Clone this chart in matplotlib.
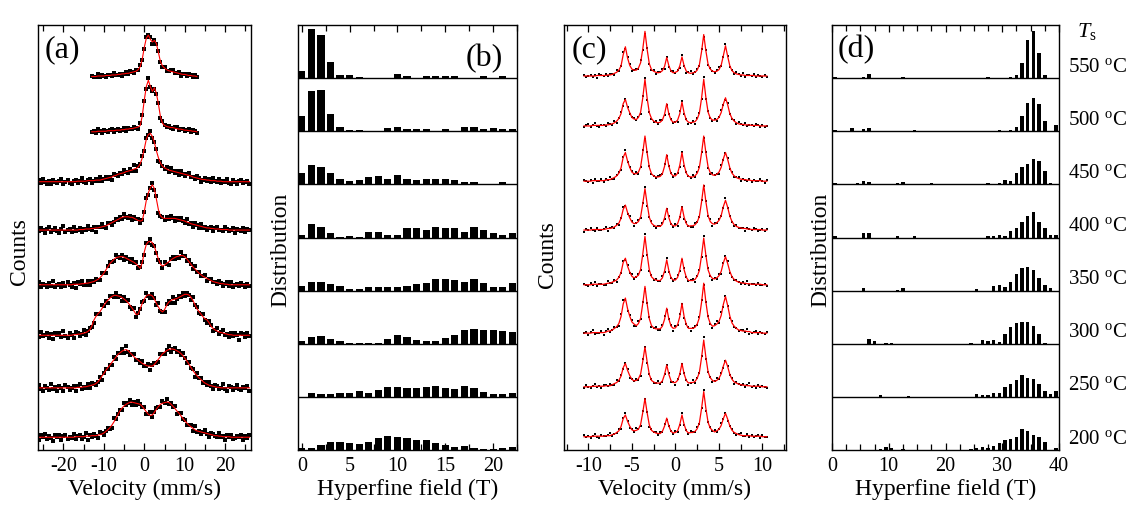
import numpy as np
import matplotlib.pyplot as plt
from matplotlib.ticker import MultipleLocator

plt.rcParams['font.family'] = ['Liberation Serif', 'DejaVu Serif']
plt.rcParams['mathtext.fontset'] = 'custom'
plt.rcParams['mathtext.rm'] = 'Liberation Serif'
plt.rcParams['mathtext.it'] = 'Liberation Serif:italic'
plt.rcParams['axes.unicode_minus'] = False

temps = [550, 500, 450, 400, 350, 300, 250, 200]

# ---------- panel (a): wide-velocity spectra, heights in % of one row ----------
vel_a_narrow = np.arange(-13, 13.01, 0.5)   # 550, 500 spectra
vel_a_wide = np.arange(-26, 26.01, 0.5)     # 450 ... 200 spectra
base_a = [7.03, 5.99, 5.05, 4.14, 3.11, 2.16, 1.17, 0.24]

fit_a550 = [0,0,0,1,1,1,1,2,2,2, 3,3,3,4,4,5,5,6,6,7, 8,9,10,13,19,33,55,72,78,70,
            65,68,62,45,28,20,16,13,11,10, 9,8,7,6,5,4,4,3,2,2, 1,1,0]
fit_a500 = [0,0,0,1,1,1,1,1,2,2, 2,2,3,3,3,4,4,5,5,6, 6,7,8,9,12,30,60,85,97,85,
            76,83,72,52,28,16,12,10,9,8, 8,7,6,5,5,4,3,3,2,2, 1,1,0]
fit_a450 = [0]*19 + [1,1] + [
    1,1,1,2,2,2,2,3,3,3, 4,5,6,7,8,9,11,12,14,15, 16,17,19,20,21,22,24,25,28,34,
    45,62,80,89,91,85,74,58,45,35, 29,26,24,22,21,20,19,18,17,16, 15,14,13,12,11,9,8,7,6,5,
    4,4,3,3,2,2,2,1,1,1] + [0]*14
fit_a400 = [0]*20 + [1,1,1] + [
    2,2,2,3,3,4,4,5,6,7, 8,10,12,14,16,18,20,22,24,25, 25,25,24,24,22,20,18,17,18,35,
    56,70,80,85,78,58,38,27,23,22, 22,22,22,22,22,21,20,19,18,17, 15,14,12,11,10,9,8,7,6,5,
    4,4,3,3,2,2,2,1,1,1, 1] + [0]*11
fit_a350 = [0]*17 + [1,1,1,1] + [
    2,2,3,3,4,5,6,8,10,13, 17,22,28,34,40,44,48,51,52,53, 53,52,50,48,46,44,42,39,35,31,
    42,62,76,81,82,79,72,60,48,39, 35,37,40,43,46,49,51,53,54,55, 55,53,49,44,39,34,30,26,22,19,
    16,14,12,10,8,6,5,4,3,2, 2,1,1] + [0]*11
fit_a300 = [0]*17 + [1,1,2,2] + [
    3,4,5,7,10,17,28,35,40,44, 50,56,62,66,70,73,75,75,74,73, 71,68,65,61,56,51,45,39,40,50,
    60,68,74,76,76,74,68,60,53,47, 44,48,56,62,65,67,68,69,71,73, 75,77,77,76,72,66,58,50,45,40,
    35,31,29,24,17,13,10,8,6,5, 4,3,2,1,1] + [0]*9
fit_a250 = [0]*19 + [1,1] + [
    1,2,2,3,4,5,6,8,11,16, 22,27,33,38,43,48,53,58,63,66, 69,71,72,70,66,62,58,55,52,49,
    46,44,42,41,41,41,44,49,54,59, 64,67,70,72,73,73,72,70,68,65, 61,56,51,45,39,33,28,23,19,16,
    12,9,7,5,4,3,2,1,1] + [0]*15
fit_a200 = [0]*18 + [1,1,1] + [
    1,1,2,2,2,3,3,3,4,5, 6,8,11,14,18,23,29,36,43,50, 55,59,62,64,66,66,65,64,63,62,
    58,53,48,43,41,42,47,53,58,62, 64,65,66,66,63,59,55,50,46,41, 36,31,27,23,20,17,14,12,11,10,
    9,8,7,6,5,4,3,3,2,2, 1,1,1,1] + [0]*10

# scatter of the measured counts about the fit, in steps of res_step_a % of a row
res_step_a = 1.7
res_a550 = [1,-1,0,2,-1,1,0,-2,1,0, -1,2,0,-1,1,-2,0,1,-1,2, 0,-1,1,0,2,-1,-2,1,0,3,
            -2,1,-1,2,0,-1,1,-2,0,1, 2,-1,0,1,-2,1,0,-1,2,0, -1,1,0]
res_a500 = [0,1,-1,2,0,-2,1,0,-1,1, 2,-1,0,1,-1,0,2,-2,1,0, -1,1,0,-2,3,1,-1,-3,2,0,
            1,-2,0,1,-1,2,0,-1,1,0, -2,1,2,-1,0,1,-1,0,2,-1, 1,0,-1]
res_a450 = [2,-1,3,0,-2,1,-3,2,0,-1, 1,3,-2,0,2,-1,-3,1,2,-2, 0,3,-1,-2,1,2,-3,0,1,-1,
            3,-2,0,2,-1,1,-3,2,0,-2, 1,-1,3,0,-2,2,-1,4,-3,1, 0,2,-2,1,-1,3,-2,0,2,-3,
            1,0,-1,2,-2,3,0,-1,1,-3, 2,0,-2,1,3,-1,0,-2,2,1, -3,0,2,-1,1,-2,3,0,-1,2,
            -2,1,0,3,-1,-2,2,0,-3,1, 2,-1,0,1,-2]
res_a400 = [-1,2,0,-3,1,3,-2,0,2,-1, -3,1,4,-2,0,1,-2,3,-1,0, 2,-3,1,-1,3,0,-2,2,-4,1,
            0,3,-1,-2,2,1,-3,0,2,-1, 1,-2,3,0,-1,2,-3,1,0,2, -2,1,-1,3,-2,0,2,-1,4,-3,
            0,1,-2,2,-1,3,0,-3,1,-1, 2,0,-2,3,-1,1,-3,2,0,-2, 3,-1,1,-2,0,2,-3,1,2,-1,
            0,-2,3,1,-1,0,2,-3,1,0, -1,2,-2,1,0]
res_a350 = [3,-2,1,0,-3,2,-1,4,-2,0, 1,-3,2,-1,3,0,-2,1,-4,2, 0,3,-1,-2,2,-3,1,0,2,-1,
            -2,3,0,-3,1,2,-1,-2,3,0, -1,2,-3,1,0,-2,3,-1,2,-2, 1,0,-3,2,-1,3,-2,1,0,-1,
            2,-2,3,0,-3,1,2,-1,0,-2, 4,-1,1,-3,2,0,-2,3,-1,1, -2,0,3,-3,1,2,-1,0,-2,2,
            1,-3,0,2,-1,3,-2,0,1,-1, 2,0,-3,1,-1]
res_a300 = [-2,4,-1,0,3,-3,1,-4,2,0, 3,-2,5,-1,-3,2,0,-4,3,1, -2,0,4,-3,1,2,-1,-3,3,0,
            -2,4,-1,1,-3,2,0,-2,3,-1, 1,-4,2,0,3,-2,-1,4,-3,1, 0,2,-2,3,-1,-3,2,1,-2,4,
            -1,0,-3,2,1,-2,3,-4,0,2, -1,3,-2,1,0,-3,4,-1,2,-2, 0,3,-1,-4,2,1,-3,0,3,-2,
            1,4,-2,0,-3,2,-1,3,0,-5, 2,1,-2,3,-1]
res_a250 = [3,-1,-3,2,0,-2,4,-1,1,-3, 2,0,-4,3,1,-2,0,2,-3,1, 4,-2,0,-1,3,-3,2,1,-2,0,
            3,-4,1,2,-1,0,-3,3,-2,1, 0,2,-3,4,-1,-2,1,3,-2,0, -1,3,-2,0,2,-4,1,2,-1,-3,
            3,0,-2,1,4,-3,0,2,-1,1, -2,3,0,-3,2,-1,1,-4,3,0, 2,-2,1,-1,3,0,-3,2,1,-2,
            0,4,-1,-3,2,1,-2,0,3,-1, -2,1,0,2,-3]
res_a200 = [-3,2,0,4,-2,1,-1,-4,3,0, 2,-3,1,3,-2,0,-1,4,-3,1, 2,-2,0,3,-4,1,-1,2,0,-3,
            3,1,-2,0,2,-1,-3,4,-1,0, 1,-2,3,-1,0,2,-3,1,-2,3, 0,-1,2,-3,1,4,-2,0,1,-1,
            -3,2,0,3,-2,1,-1,2,-4,0, 3,-1,1,-2,0,2,-3,4,-1,1, -2,0,3,-1,-3,2,1,0,-2,3,
            -1,1,-4,2,0,3,-2,-1,1,0, 2,-3,1,-1,2]

# ---------- panel (c): sextet spectra, heights in % of one row ----------
vel_c = np.arange(-10.5, 10.51, 0.25)
base_c = [7.04, 6.10, 5.06, 4.14, 3.11, 2.20, 1.19, 0.25]

fit_c550 = [0,0,0,0,0,0,1,1,1,1,1, 2,2,3,5,7,11,19,40,55,34, 20,13,11,11,15,25,51,84,50,23,
            12,9,7,6,7,10,18,35,19,9, 6,7,9,19,36,19,9,6,5,6, 7,11,21,46,78,47,22,13,9,8,
            9,12,20,38,57,37,19,10,6,4, 3,2,2,1,1,1,1,1,0,0, 0,0,0,0]
fit_c500 = [0,0,0,0,1,1,1,1,1,1,2, 2,3,4,6,9,14,23,42,50,35, 25,16,13,12,16,26,53,88,52,25,
            14,9,7,6,7,11,22,42,22,11, 7,7,11,23,45,24,11,7,6,7, 8,13,24,52,88,53,26,15,11,11,
            12,16,25,41,53,40,23,14,9,6, 4,3,3,2,2,2,1,1,1,1, 0,0,0,0]
fit_c450 = [0,0,0,0,1,1,1,1,1,1,2, 3,3,5,7,10,15,25,45,54,38, 26,17,14,14,17,27,54,85,53,26,
            14,10,8,8,9,14,28,50,28,14, 10,10,15,30,54,30,15,9,8,8, 10,15,26,53,85,53,27,16,12,11,
            13,17,26,42,54,41,25,15,10,7, 5,4,3,3,2,2,1,1,1,1, 1,0,0,0]
fit_c400 = [0,0,0,0,1,1,1,1,1,1, 2,3,3,4,6,9,13,22,39,47,33,23,15,12,
            13,16,25,50,78,49,24,13,9,7, 7,7,11,23,41,23,11,8, 8,12,24,44,24,12,7,
            8,8,10,15,26,53,85,53,27,16,12,
            11,14,18,27,44,56,43,26,16,10,7,5,4,3,3,2,2,1,1,1,1,1,0,0,0]
fit_c350 = [0,0,0,0,1,1,1,1,1,1, 2,3,3,5,7,9,14,23,42,50,35,24,16,13,
            15,18,29,58,91,57,28,15,11,9, 8,8,13,26,47,26,13,9, 9,14,28,50,28,14,8,
            8,8,10,16,27,55,88,55,28,17,12,
            11,13,17,25,41,53,40,25,15,10,7,5,4,3,3,2,2,1,1,1,1,1,0,0,0]
fit_c300 = [0,0,0,0,1,1,1,1,1,1, 2,4,4,6,9,12,18,31,55,66,46,32,21,17,
            14,18,28,56,88,55,27,14,10,8, 8,8,13,26,47,26,13,9, 10,16,31,56,31,16,9,
            9,9,11,17,29,58,94,58,30,18,13,
            14,17,22,33,54,69,52,32,19,13,9,6,5,4,4,3,3,1,1,1,1,1,0,0,0]
fit_c250 = [0,0,0,0,1,1,1,1,1,1, 2,2,2,4,6,8,12,20,36,44,31,21,14,11,
            12,15,24,48,75,47,23,12,9,7, 7,7,11,23,41,23,11,8, 8,12,24,44,24,12,7,
            8,8,10,16,27,55,88,55,28,17,12,
            10,12,16,24,39,50,38,23,14,9,7,5,4,3,3,2,2,1,1,1,1,1,0,0,0]
fit_c200 = [0,0,0,0,1,1,1,1,1,1, 2,2,2,4,5,8,11,19,34,41,29,20,13,11,
            12,14,23,46,72,45,22,12,9,7, 6,6,10,20,35,20,10,7, 8,11,23,41,23,11,7,
            8,8,10,15,26,53,85,53,27,16,12,
            9,11,14,21,34,44,33,20,12,8,6,4,3,2,2,2,2,1,1,1,1,1,0,0,0]

res_step_c = 1.4
res_c550 = [1,-2,0,2,-1,1,-3,2,0,-1, 2,-1,1,0,-2,3,-1,0,4,-3, 1,2,-2,0,1,-1,3,-2,-3,2,
            0,-1,2,-2,1,0,2,-3,1,-1, 0,2,-1,1,-3,2,0,-2,1,3, -1,0,2,-2,4,-3,1,-1,2,0,
            -2,1,3,-1,-2,2,0,-1,1,-2, 2,0,-1,3,-2,1,0,-1,2,-2, 1,0,-1,2,-1]
res_c500 = [-1,1,2,-2,0,3,-1,-2,1,0, -2,2,0,-1,3,-2,1,2,-3,1, 0,-2,1,2,-1,0,-3,3,2,-2,
            1,0,-1,2,-2,3,0,-1,-2,1, 2,-1,0,-2,3,1,-1,2,-2,0, 1,-3,2,0,-1,3,-2,1,0,-1,
            2,-2,1,3,-1,-3,2,0,-1,1, -2,2,0,-1,3,-2,0,1,-1,2, 0,-2,1,-1,0]
res_c450 = [2,0,-1,1,-3,2,-1,0,2,-2, 1,-1,3,0,-2,1,2,-3,1,3, -2,0,1,-1,2,-2,0,3,-4,1,
            2,-1,0,-2,1,2,-1,3,-2,0, 1,-2,2,0,-3,1,-1,2,0,-1, 3,-2,1,0,2,-3,1,-1,-2,2,
            0,1,-2,3,-1,0,2,-2,1,-1, 0,2,-3,1,0,-1,2,-2,1,0, -1,2,0,-2,1]
res_c400 = [-2,1,0,3,-1,-2,2,0,-1,1, 3,-3,0,1,-1,2,-2,0,3,-1, -2,2,1,-3,0,2,-1,1,2,-2,
            0,3,-1,-2,1,0,2,-2,-1,3, 0,-1,2,-3,1,0,-2,2,1,-1, -2,3,0,-1,2,-2,1,0,3,-3,
            1,-1,2,0,-2,3,-1,1,0,-2, 2,-1,0,1,-3,2,0,-1,2,1, -2,0,1,-1,2]
res_c350 = [1,0,-2,2,-1,3,-2,0,1,-1, -2,3,0,-1,2,-3,1,0,2,-2, 1,-1,3,-2,0,2,-1,-3,3,0,
            -1,2,-2,1,0,-1,3,-2,2,-1, 0,-2,1,3,-1,-2,2,0,-1,1, 2,-3,0,1,-2,3,-1,2,0,-2,
            1,-1,2,-3,0,1,3,-2,0,-1, 2,0,-2,1,-1,3,-2,0,1,-1, 2,-1,0,1,-2]
res_c300 = [0,2,-3,1,3,-2,0,-1,2,-3, 1,3,-2,0,2,-1,-3,4,5,-2, -3,1,2,-2,0,3,-1,2,-3,1,
            2,-2,0,3,-1,-2,1,4,-2,0, 1,-3,2,0,3,-1,-2,1,2,-3, 0,2,-1,1,3,-2,0,2,-1,-3,
            2,4,-2,5,-3,1,0,-2,3,-1, 1,-2,0,2,-1,3,-3,0,1,2, -2,1,0,-1,2]
res_c250 = [-1,2,0,-2,1,3,-1,0,-3,2, 1,-1,2,0,-2,3,-1,1,-2,0, 2,-3,1,0,2,-1,-2,3,0,-1,
            1,2,-2,0,3,-1,-2,1,0,2, -1,1,-3,2,0,-1,2,1,-2,0, 3,-2,1,-1,2,4,-2,0,1,-2,
            0,3,-1,2,-2,-1,1,0,2,-3, 1,0,-1,2,-2,1,3,-1,0,-2, 2,-1,1,0,-1]
res_c200 = [2,-1,1,-2,0,3,-1,-2,2,0, -1,1,3,-2,0,-1,2,-3,1,2, 0,-2,1,-1,3,0,-2,2,-1,1,
            -3,2,0,1,-2,2,-1,3,-2,0, 1,-1,2,-2,0,3,-1,1,-2,2, 0,-1,3,-2,1,2,-3,0,1,-1,
            2,-2,0,3,-1,1,-2,0,2,-1, -2,1,3,-1,0,2,-2,1,-1,0, 1,-2,2,0,-1]

# ---------- panel (b): low-field distributions, bins 0..22 T (% of a row) ----------
field_b = np.arange(0, 23)
dist_b550 = [13,92,82,31,6,6,3,1,1,1, 8,4,1,4,4,4,4,1,1,4, 1,4,1]
dist_b500 = [28,75,77,33,8,3,3,1,1,6, 8,4,4,4,1,4,1,8,8,4, 6,4,4]
dist_b450 = [21,36,33,21,11,7,8,14,16,11, 18,11,9,11,11,11,8,5,5,1, 1,5,1]
dist_b400 = [4,25,20,9,1,3,1,11,11,4, 4,17,17,14,19,17,17,11,20,15, 9,4,9]
dist_b350 = [9,17,17,13,8,3,3,6,6,6, 6,9,13,14,22,22,20,17,22,14, 6,6,14]
dist_b300 = [6,13,14,9,5,1,1,1,2,9, 16,13,8,6,5,11,16,25,28,25, 25,24,22]
dist_b250 = [0,8,5,5,8,8,11,8,13,18, 18,17,17,18,20,17,14,20,16,9, 6,5,8]
dist_b200 = [3,4,9,16,16,13,11,16,22,26, 24,22,19,19,13,9,6,8,3,1, 1,3,6]

# ---------- panel (d): hyperfine field distributions, bins 0.5..39.5 T ----------
field_d = np.arange(0.5, 40, 1.0)
dist_d550 = [3,0,0,0,0,2,7,0,0,0, 0,0,2,0,0,0,0,0,0,0, 0,0,0,0,0,0,0,2,0,0, 0,2,5,28,71,89,47,5,0,0]
dist_d500 = [2,0,0,7,0,5,6,0,0,0, 0,0,0,0,2,0,0,0,0,0, 0,0,0,0,0,0,0,0,0,2, 0,3,8,28,53,62,52,19,0,11]
dist_d450 = [2,0,0,0,2,6,4,0,0,0, 0,3,5,0,0,0,0,2,0,0, 0,0,0,0,0,0,0,2,0,3, 9,6,22,33,39,48,44,25,2,0]
dist_d400 = [2,0,0,0,0,8,8,0,0,0, 0,2,0,0,3,0,0,0,0,0, 0,0,0,0,0,0,0,2,3,4, 2,13,18,30,41,48,29,18,5,5]
dist_d350 = [0,0,0,0,0,5,0,0,0,0, 0,2,5,0,0,0,0,0,0,0, 0,0,0,0,0,4,0,0,8,11, 7,16,31,43,45,38,24,11,5,0]
dist_d300 = [0,0,0,0,0,0,9,6,0,2, 2,0,0,0,0,0,0,0,0,0, 0,0,0,0,2,0,8,5,7,4, 18,31,40,41,41,33,18,2,0,0]
dist_d250 = [0,0,0,0,0,0,0,0,3,0, 0,0,0,2,0,0,0,0,0,0, 0,0,0,0,0,6,4,4,8,8, 19,24,31,42,36,33,24,11,5,11]
dist_d200 = [0,0,0,0,0,0,0,0,2,5, 4,0,2,0,0,0,0,0,0,0, 0,0,0,0,2,3,6,3,8,14, 18,20,25,40,36,28,24,15,0,3]

fits_a = [fit_a550, fit_a500, fit_a450, fit_a400, fit_a350, fit_a300, fit_a250, fit_a200]
res_a = [res_a550, res_a500, res_a450, res_a400, res_a350, res_a300, res_a250, res_a200]
fits_c = [fit_c550, fit_c500, fit_c450, fit_c400, fit_c350, fit_c300, fit_c250, fit_c200]
res_c = [res_c550, res_c500, res_c450, res_c400, res_c350, res_c300, res_c250, res_c200]
dists_b = [dist_b550, dist_b500, dist_b450, dist_b400, dist_b350, dist_b300, dist_b250, dist_b200]
dists_d = [dist_d550, dist_d500, dist_d450, dist_d400, dist_d350, dist_d300, dist_d250, dist_d200]

W, H = 1138, 511
fig = plt.figure(figsize=(W / 100, H / 100), dpi=100)


def px_axes(left, right, top=25, bottom=450):
    return fig.add_axes([left / W, 1 - bottom / H, (right - left) / W, (bottom - top) / H])


def style(ax, xlim, major, minor):
    ax.set_xlim(*xlim)
    ax.set_ylim(0, 8)
    ax.set_yticks([])
    ax.xaxis.set_major_locator(MultipleLocator(major))
    ax.xaxis.set_minor_locator(MultipleLocator(minor))
    ax.tick_params(axis='x', which='both', direction='in', top=True, bottom=True,
                   width=0.9, labelsize=14.5, pad=5)
    ax.tick_params(axis='x', which='major', length=5)
    ax.tick_params(axis='x', which='minor', length=4)
    for s in ax.spines.values():
        s.set_linewidth(1.0)


ax_a = px_axes(38, 251)
ax_b = px_axes(298, 517)
ax_c = px_axes(564, 786)
ax_d = px_axes(832, 1059)

style(ax_a, (-26.3, 26.4), 10, 5)
style(ax_b, (-0.4, 22.5), 5, 2.5)
style(ax_c, (-12.8, 12.7), 5, 2.5)
style(ax_d, (0, 40), 10, 2.5)

# spectra: measured counts (black) and fitted curve (red)
for i in range(8):
    vel = vel_a_narrow if i < 2 else vel_a_wide
    fit = np.array(fits_a[i]) / 100.0
    pts = fit + np.array(res_a[i]) * res_step_a / 100.0
    ax_a.plot(vel, base_a[i] + pts, 's', ms=2.2, mew=0, color='black')
    ax_a.plot(vel, base_a[i] + fit, color='red', lw=0.8)

    fit = np.array(fits_c[i]) / 100.0
    pts = fit + np.array(res_c[i]) * res_step_c / 100.0
    ax_c.plot(vel_c, base_c[i] + pts, 's', ms=2.0, mew=0, color='black')
    ax_c.plot(vel_c, base_c[i] + fit, color='red', lw=0.9)

# distributions
for i in range(8):
    row = 7 - i
    ax_b.bar(field_b, np.array(dists_b[i]) / 100.0, width=0.75, bottom=row,
             color='black', linewidth=0)
    ax_d.bar(field_d, np.array(dists_d[i]) / 100.0, width=0.6, bottom=row,
             color='black', linewidth=0)
for ax in (ax_b, ax_d):
    for row in range(1, 8):
        ax.axhline(row, color='black', lw=1.0)

ax_a.set_xlabel('Velocity (mm/s)', fontsize=17, labelpad=2)
ax_c.set_xlabel('Velocity (mm/s)', fontsize=17, labelpad=2)
ax_b.set_xlabel('Hyperfine field (T)', fontsize=17, labelpad=2)
ax_d.set_xlabel('Hyperfine field (T)', fontsize=17, labelpad=2)

fig.text(19 / W, 1 - 252 / H, 'Counts', rotation=90, ha='center', va='center', fontsize=17)
fig.text(281 / W, 1 - 250 / H, 'Distribution', rotation=90, ha='center', va='center', fontsize=17)
fig.text(548 / W, 1 - 255 / H, 'Counts', rotation=90, ha='center', va='center', fontsize=17)
fig.text(821 / W, 1 - 250 / H, 'Distribution', rotation=90, ha='center', va='center', fontsize=17)

ax_a.text(0.033, 0.941, '(a)', transform=ax_a.transAxes, ha='left', va='center', fontsize=23)
ax_b.text(0.936, 0.922, '(b)', transform=ax_b.transAxes, ha='right', va='center', fontsize=23)
ax_c.text(0.036, 0.941, '(c)', transform=ax_c.transAxes, ha='left', va='center', fontsize=23)
ax_d.text(0.026, 0.943, '(d)', transform=ax_d.transAxes, ha='left', va='center', fontsize=23)

fig.text(1077 / W, 1 - 32 / H, r'$T_{\mathrm{s}}$', ha='left', va='center', fontsize=16)
for i, t in enumerate(temps):
    yc = 25 + 53.125 * (i + 1) - 11
    fig.text(1068 / W, 1 - yc / H, r'%d $^{\mathrm{o}}$C' % t, ha='left', va='center', fontsize=15)

fig.savefig('out.png', dpi=100)
